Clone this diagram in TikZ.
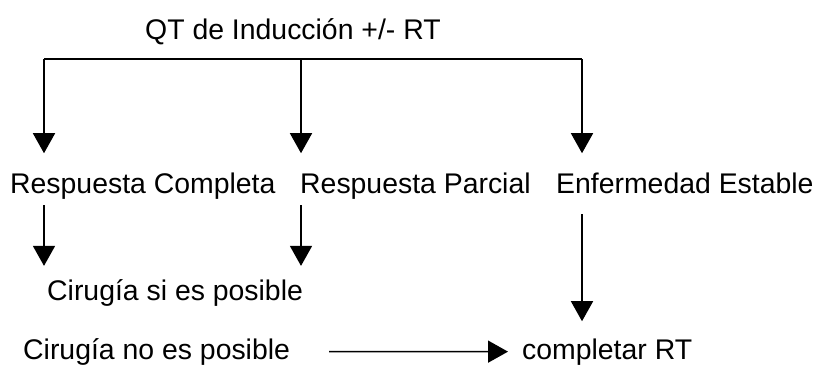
\documentclass[tikz,border=0pt]{standalone}
\usepackage{fontspec}
\setmainfont{Liberation Sans}
\usetikzlibrary{arrows.meta}

\begin{document}
\begin{tikzpicture}[x=1pt,y=-1pt,
    txt/.style={anchor=base west,inner sep=0pt,font=\fontsize{28.4}{34}\selectfont},
    ln/.style={line width=1.5pt},
    arr/.style={ln,-{Triangle[width=22pt,length=20pt]}}]
  \useasboundingbox (0,0) rectangle (818,367);
  \node[txt] (qt)  at (145,39)  {QT de Inducción +/- RT};
  \node[txt] (rc)  at (10,193)  {Respuesta Completa};
  \node[txt] (rp)  at (300,193) {Respuesta Parcial};
  \node[txt] (ee)  at (556,193) {Enfermedad Estable};
  \node[txt] (cs)  at (47,300)  {Cirugía si es posible};
  \node[txt] (cn)  at (23,359)  {Cirugía no es posible};
  \node[txt] (crt) at (522,359) {completar RT};
  % reparto
  \coordinate (b1) at (44,59);
  \coordinate (b2) at (301,59);
  \coordinate (b3) at (582,59);
  \draw[ln] (b1) -- (b3);
  \foreach \b/\n in {b1/rc,b2/rp,b3/ee}
    \draw[arr] (\b) -- ([yshift=19pt]\n.north -| \b);
  % siguiente paso
  \draw[arr] ([yshift=-6pt]rc.south -| b1) -- ([yshift=13pt]cs.north -| b1);
  \draw[arr] ([yshift=-6pt]rp.south -| b2) -- ([yshift=13pt]cs.north -| b2);
  \draw[arr] ([yshift=-21pt]ee.south -| b3) -- ([yshift=17pt]crt.north -| b3);
  \draw[arr,shorten <=39pt,shorten >=14pt] (cn.east) -- (crt.west);
\end{tikzpicture}
\end{document}
